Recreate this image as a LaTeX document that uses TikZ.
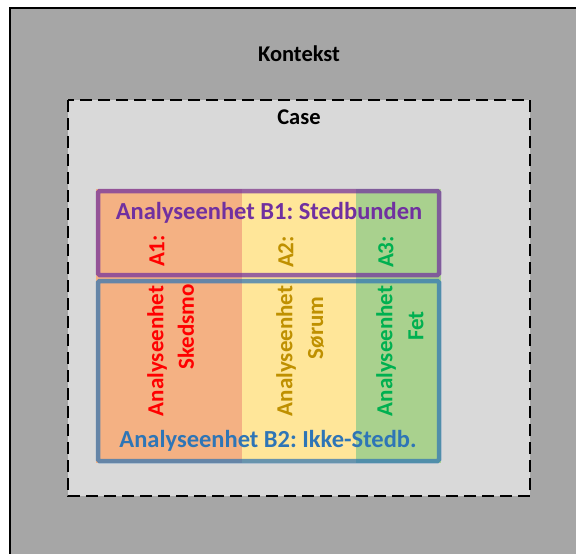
\documentclass[tikz,border=0pt]{standalone}
\usepackage{fontspec}
\setmainfont{Carlito}
\definecolor{ctxgray}{HTML}{A6A6A6}
\definecolor{casegray}{HTML}{D9D9D9}
\definecolor{orng}{HTML}{F4B183}
\definecolor{yllw}{HTML}{FFE699}
\definecolor{grn}{HTML}{A9D18E}
\definecolor{purp}{HTML}{7030A0}
\definecolor{blu}{HTML}{2E75B6}
\definecolor{gold}{HTML}{BF9000}
\definecolor{gtext}{HTML}{00B050}
\frenchspacing
\begin{document}
\begin{tikzpicture}[x=1pt,y=-1pt,
  lbl/.style={font=\bfseries\fontsize{22.5}{26}\selectfont, inner sep=0pt},
  blbl/.style={font=\bfseries\fontsize{24.5}{28}\selectfont\frenchspacing, inner sep=0pt},
  vlbl/.style={font=\bfseries\fontsize{23}{27}\selectfont, inner sep=0pt, rotate=90},
  frame/.style={line width=4.5pt, opacity=0.72, rounded corners=1.5pt}]
\useasboundingbox (0,0) rectangle (576,554);
\fill[white] (0,0) rectangle (576,554);
\draw[fill=ctxgray, line width=1.2pt] (10,8) rectangle (590,570);
\draw[fill=casegray, line width=2.6pt, dash pattern=on 12pt off 6pt] (68,100) rectangle (530,496);
\fill[orng] (96,189) rectangle (242,463);
\fill[yllw] (242,189) rectangle (356,463);
\fill[grn] (356,189) rectangle (441,463);
\draw[frame, draw=purp] (98,191) rectangle (439,275);
\draw[frame, draw=blu] (98,281) rectangle (439,461);
\node[lbl] (ctx) at (299,54) {Kontekst};
\node[lbl] (case) at (299,117) {Case};
\node[blbl, text=purp] (b1) at (269,213) {Analyseenhet B1: Stedbunden};
\node[blbl, text=blu] (b2) at (268,441) {Analyseenhet B2: Ikke-Stedb.};
\node[vlbl, text=red] (a1) at (157,251) {A1:};
\node[vlbl, text=red] (a1a) at (157,351) {Analyseenhet};
\node[vlbl, text=red] (a1b) at (186,327) {Skedsmo};
\node[vlbl, text=gold] (a2) at (286,252) {A2:};
\node[vlbl, text=gold] (a2a) at (286,351) {Analyseenhet};
\node[vlbl, text=gold] (a2b) at (316,328) {Sørum};
\node[vlbl, text=gtext] (a3) at (386,252) {A3:};
\node[vlbl, text=gtext] (a3a) at (386,351) {Analyseenhet};
\node[vlbl, text=gtext] (a3b) at (416,326) {Fet};
\end{tikzpicture}
\end{document}
